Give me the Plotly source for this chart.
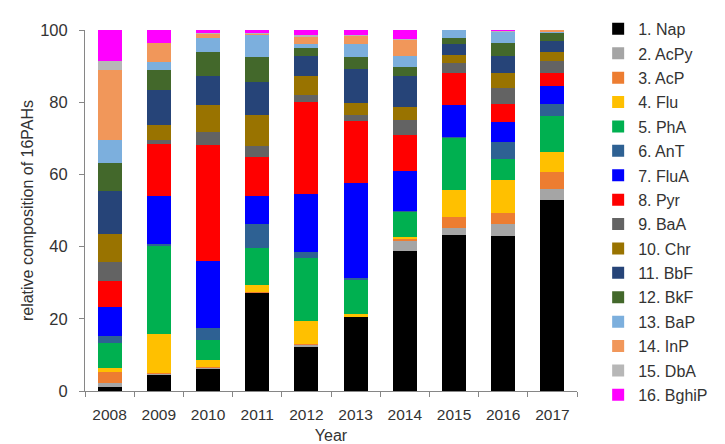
import plotly.graph_objects as go

years = ["2008", "2009", "2010", "2011", "2012", "2013", "2014", "2015", "2016", "2017"]

names = ["1. Nap", "2. AcPy", "3. AcP", "4. Flu", "5. PhA", "6. AnT", "7. FluA", "8. Pyr",
         "9. BaA", "10. Chr", "11. BbF", "12. BkF", "13. BaP", "14. InP", "15. DbA", "16. BghiP"]

Nap   = [1.2, 4.6, 6.2, 27.3, 12.1, 20.5, 38.8, 43.3, 43.0, 53.0]
AcPy  = [1.1, 0.2, 0.2, 0.1, 0.7, 0.1, 2.7, 1.8, 3.3, 2.9]
AcP   = [3.1, 0.1, 0.2, 0.1, 0.2, 0.1, 0.6, 3.1, 3.1, 4.9]
Flu   = [1.1, 10.9, 2.0, 2.0, 6.3, 0.5, 0.6, 7.5, 9.0, 5.3]
PhA   = [6.7, 24.5, 5.6, 10.0, 17.6, 9.7, 7.1, 14.5, 5.8, 10.0]
AnT   = [2.0, 0.3, 3.3, 6.8, 1.5, 0.3, 0.2, 0.2, 4.9, 3.4]
FluA  = [8.2, 13.4, 18.4, 7.6, 16.1, 26.5, 11.0, 8.9, 5.3, 4.9]
Pyr   = [7.0, 14.4, 32.2, 10.9, 25.6, 17.1, 9.8, 8.7, 5.2, 3.8]
BaA   = [5.4, 1.2, 3.7, 3.1, 2.0, 1.6, 4.2, 2.8, 4.3, 3.1]
Chr   = [7.7, 4.2, 7.3, 8.6, 5.2, 3.4, 3.6, 2.2, 4.2, 2.6]
BbF   = [11.8, 9.7, 8.1, 9.2, 5.5, 9.5, 8.7, 3.1, 4.7, 3.1]
BkF   = [7.8, 5.3, 6.6, 6.7, 2.3, 3.3, 2.4, 1.8, 3.7, 2.2]
BaP   = [6.4, 2.3, 4.0, 6.3, 0.9, 3.6, 3.1, 2.1, 3.1, 0.5]
InP   = [19.5, 5.3, 1.3, 0.2, 2.2, 2.2, 4.5, 0.2, 0.1, 0.3]
DbA   = [2.4, 0.1, 0.2, 0.2, 0.5, 0.1, 0.1, 0.1, 0.1, 0.1]
BghiP = [8.8, 3.6, 1.2, 0.9, 1.5, 1.5, 2.8, 0.2, 0.4, 0.3]

series = [Nap, AcPy, AcP, Flu, PhA, AnT, FluA, Pyr, BaA, Chr, BbF, BkF, BaP, InP, DbA, BghiP]

colors = ["#000000", "#A5A5A5", "#ED7D31", "#FFC000", "#00B050", "#2E6193", "#0000FF", "#FF0000",
          "#636363", "#997300", "#264478", "#43682B", "#7CAFDD", "#F1975A", "#B7B7B7", "#FF00FF"]

fig = go.Figure()
for nm, vals, col in zip(names, series, colors):
    fig.add_trace(go.Bar(x=years, y=vals, name=nm, legendgroup=nm,
                         marker=dict(color=col, line=dict(width=0))))

axis_col = "#868686"
txt_col = "#333333"
fig.update_layout(
    width=725, height=444,
    barmode="stack", bargap=0.51,
    plot_bgcolor="white", paper_bgcolor="white",
    margin=dict(l=84.5, r=110.5, t=17, b=53),
    font=dict(family="Liberation Sans, Arial, sans-serif", size=15, color=txt_col),
    legend=dict(x=1.043, y=1.05, xanchor="left", yanchor="top",
                traceorder="grouped", tracegroupgap=0.6, maxheight=1.0,
                font=dict(size=16, color=txt_col),
                itemwidth=30, bgcolor="rgba(0,0,0,0)"),
    showlegend=True,
)
fig.update_xaxes(
    automargin=False,
    showline=True, linecolor=axis_col, linewidth=1,
    ticks="outside", tickson="boundaries", ticklen=5, tickcolor=axis_col,
    ticklabelstandoff=9,
    title=dict(text="Year", font=dict(size=16, color=txt_col), standoff=17),
    tickfont=dict(size=15.5, color=txt_col),
)
fig.update_yaxes(
    automargin=False,
    range=[0, 100], dtick=20, showgrid=False, zeroline=False,
    showline=True, linecolor=axis_col, linewidth=1,
    ticks="outside", ticklen=5, tickcolor=axis_col,
    ticklabelstandoff=8,
    title=dict(text="relative composition of 16PAHs", font=dict(size=16, color=txt_col), standoff=2),
    tickfont=dict(size=16.5, color=txt_col),
)

fig.write_html("out.html")
